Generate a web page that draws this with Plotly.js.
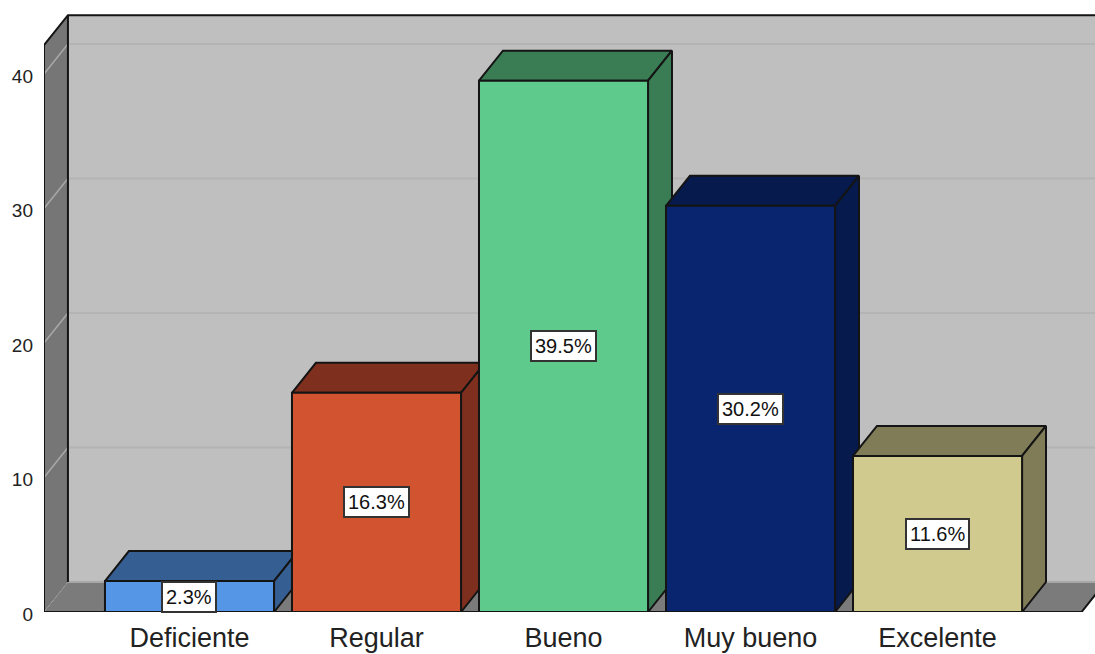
<!DOCTYPE html>
<html>
<head>
<meta charset="utf-8">
<script src="https://cdn.plot.ly/plotly-3.0.1.min.js"></script>
<style>html,body{margin:0;padding:0;background:#fff;overflow:hidden}</style>
</head>
<body>
<div id="chart" style="width:1095px;height:654px"></div>
<script>
const categories = ['Deficiente', 'Regular', 'Bueno', 'Muy bueno', 'Excelente'];
const percentValues = [2.3, 16.3, 39.5, 30.2, 11.6];
const frontColors = ['#5596e6', '#d1532f', '#5ecb8c', '#0a2570', '#d0ca8e'];
const shadeColors = ['#355f92', '#7f2f1e', '#3a7d55', '#061a4e', '#807c57'];
const yTicks = [0, 10, 20, 30, 40];

// Axis geometry
const xMin = -0.778, xMax = 4.842, yMax = 45.5;
const barWidth = 0.904;
const depthX = 0.128, depthY = 2.23;
const wallTop = 42.14;
const floorRight = 4.77;
const ink = '#141414';

const traces = [];
function poly(xs, ys, fill, lineColor, lineWidth, z) {
  traces.push({
    type: 'scatter', mode: 'lines', x: xs, y: ys, fill: 'toself', fillcolor: fill,
    line: {color: lineColor, width: lineWidth, simplify: false}, hoverinfo: 'skip',
    showlegend: false, zorder: z, cliponaxis: true
  });
}
function seg(xs, ys, color, width, z, dash) {
  traces.push({
    type: 'scatter', mode: 'lines', x: xs, y: ys,
    line: {color: color, width: width, dash: dash || 'solid'}, hoverinfo: 'skip',
    showlegend: false, zorder: z, cliponaxis: false
  });
}

// Back wall, left wall, floor
const backX = xMin + depthX;
poly([backX, xMax + 1, xMax + 1, backX, backX], [depthY, depthY, wallTop + depthY, wallTop + depthY, depthY], '#bfbfbf', 'rgba(0,0,0,0)', 0, -5);
poly([xMin, backX, backX, xMin, xMin], [0, depthY, wallTop + depthY, wallTop, 0], '#767676', 'rgba(0,0,0,0)', 0, -5);
poly([xMin, floorRight, floorRight + depthX, backX, xMin], [0, 0, depthY, depthY, 0], '#7b7b7b', 'rgba(0,0,0,0)', 0, -5);

// Gridlines on the walls
yTicks.slice(1).forEach(v => {
  seg([backX, xMax], [v + depthY, v + depthY], '#b4b4b4', 2, -4);
  seg([xMin, backX], [v, v + depthY], '#a8a8a8', 1.5, -4);
});
seg([xMin, backX], [0, depthY], '#a0a0a0', 1, -4, 'dot');
seg([backX, floorRight + depthX], [depthY, depthY], '#a8a8a8', 2, -4);

// Wall outlines
seg([xMin, xMin, backX, xMax], [0, wallTop, wallTop + depthY, wallTop + depthY], ink, 2, -3);
seg([backX, backX], [depthY, wallTop + depthY], ink, 2, -3);
seg([xMin, floorRight, floorRight + depthX], [0, 0, depthY], ink, 2, -3);

// Bars
categories.forEach((c, i) => {
  const v = percentValues[i];
  const l = i - barWidth / 2, r = i + barWidth / 2;
  poly([l, r, r + depthX, l + depthX, l], [v, v, v + depthY, v + depthY, v], shadeColors[i], ink, 2, i * 2 + 1);
  poly([r, r + depthX, r + depthX, r, r], [0, depthY, v + depthY, v, 0], shadeColors[i], ink, 2, i * 2 + 1);
  traces.push({
    type: 'bar', x: [i], y: [v], width: barWidth,
    marker: {color: frontColors[i], line: {color: ink, width: 2}},
    hoverinfo: 'skip', showlegend: false, zorder: i * 2 + 2, cliponaxis: false
  });
});

const annotations = categories.map((c, i) => ({
  x: i, y: percentValues[i] / 2, xref: 'x', yref: 'y',
  text: percentValues[i].toFixed(1) + '%', showarrow: false,
  font: {family: 'Liberation Sans, Arial, sans-serif', size: 20, color: '#111'},
  bgcolor: '#ffffff', bordercolor: '#333333', borderwidth: 2, borderpad: 3
}));

const layout = {
  width: 1095, height: 654,
  margin: {l: 44, r: 0, t: 0, b: 42, pad: 0},
  paper_bgcolor: '#ffffff', plot_bgcolor: '#ffffff',
  showlegend: false, barmode: 'overlay',
  xaxis: {
    type: 'linear', range: [xMin, xMax], tickmode: 'array',
    tickvals: categories.map((c, i) => i), ticktext: categories,
    showgrid: false, zeroline: false, showline: false, ticks: '', ticklabelstandoff: 7,
    tickfont: {family: 'Liberation Sans, Arial, sans-serif', size: 27, color: '#222'}
  },
  yaxis: {
    range: [0, yMax], tickmode: 'array', tickvals: yTicks, ticktext: yTicks.map(String),
    showgrid: false, zeroline: false, showline: false, ticks: '', ticklabelstandoff: 10, ticklabelshift: 2,
    tickfont: {family: 'Liberation Sans, Arial, sans-serif', size: 19, color: '#222'}
  },
  annotations: annotations
};
Plotly.newPlot('chart', traces, layout, {displayModeBar: false, staticPlot: true});
</script>
</body>
</html>
